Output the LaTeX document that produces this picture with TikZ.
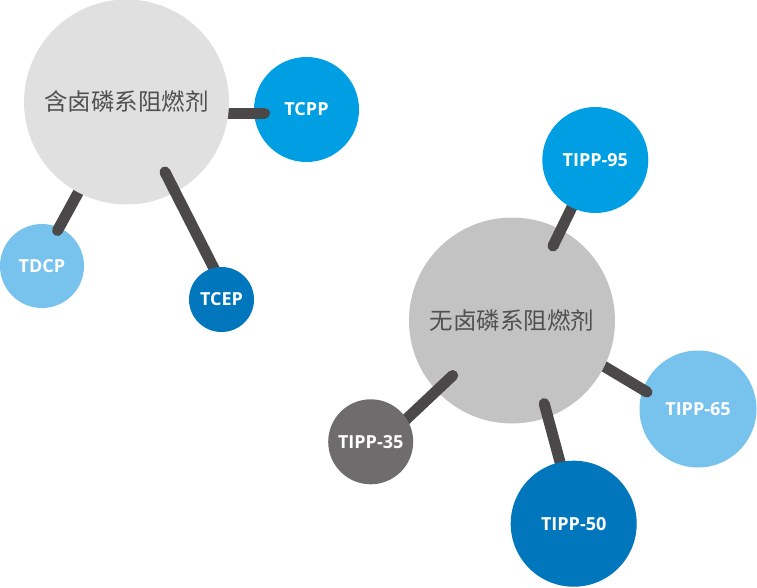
\documentclass[tikz,border=0pt]{standalone}
\usepackage{fontspec}
\setmainfont{Open Sans}
\newfontfamily\cjk{Noto Sans CJK SC}
\definecolor{bigA}{HTML}{E0E0E0}
\definecolor{bigB}{HTML}{C3C3C3}
\definecolor{cblue}{HTML}{009FE3}
\definecolor{clight}{HTML}{78C3EE}
\definecolor{cdark}{HTML}{0076BD}
\definecolor{cgray}{HTML}{6E6C6D}
\definecolor{cline}{HTML}{4B4849}
\definecolor{ctext}{HTML}{505050}
\begin{document}
\begin{tikzpicture}[x=1pt,y=-1pt,
  ball/.style={circle,inner sep=0pt,minimum size=#1},
  hub/.style={ball=#1,text=ctext,font=\cjk\fontsize{23.5}{26}\selectfont},
  leaf/.style={ball=#1,text=white,font=\fontsize{18}{20}\selectfont\bfseries},
  link/.style={draw=cline,line width=11pt,line cap=round}]
\useasboundingbox (0,0) rectangle (757,587);
% line end coordinates
\coordinate (a1) at (200,113);   \coordinate (a2) at (264.5,113);
\coordinate (b1) at (90,171);    \coordinate (b2) at (57.5,230.5);
\coordinate (c1) at (165,172);   \coordinate (c2) at (230,300);
\coordinate (d1) at (553,246);   \coordinate (d2) at (595,160);
\coordinate (e1) at (580,352);   \coordinate (e2) at (647,392);
\coordinate (f1) at (544.2,403.6); \coordinate (f2) at (573,510);
\coordinate (g1) at (452.7,375.5); \coordinate (g2) at (380,444);
% lower small circles
\node[leaf=105pt,fill=cblue] (tcpp) at (306.5,109.5) {TCPP};
\node[leaf=84pt,fill=clight] (tdcp) at (42,266) {TDCP};
\node[leaf=117pt,fill=clight] (t65) at (698,409) {TIPP-65};
% links under hubs
\draw[link] (a1) -- (a2);
\draw[link] (b1) -- (b2);
\draw[link] (e1) -- (e2);
% hubs
\node[hub=205pt,fill=bigA] (h1) at (126.5,102) {含卤磷系阻燃剂};
\node[hub=206pt,fill=bigB] (h2) at (512,320.5) {无卤磷系阻燃剂};
% links over hubs
\draw[link] (c1) -- (c2);
\draw[link] (d1) -- (d2);
\draw[link] (f1) -- (f2);
\draw[link] (g1) -- (g2);
% upper small circles
\node[leaf=65pt,fill=cdark] (tcep) at (221.5,299.5) {TCEP};
\node[leaf=106pt,fill=cblue] (t95) at (595.3,160) {TIPP-95};
\node[leaf=126pt,fill=cdark] (t50) at (573.7,523.7) {TIPP-50};
\node[leaf=85pt,fill=cgray] (t35) at (370.7,441.8) {TIPP-35};
\end{tikzpicture}
\end{document}
